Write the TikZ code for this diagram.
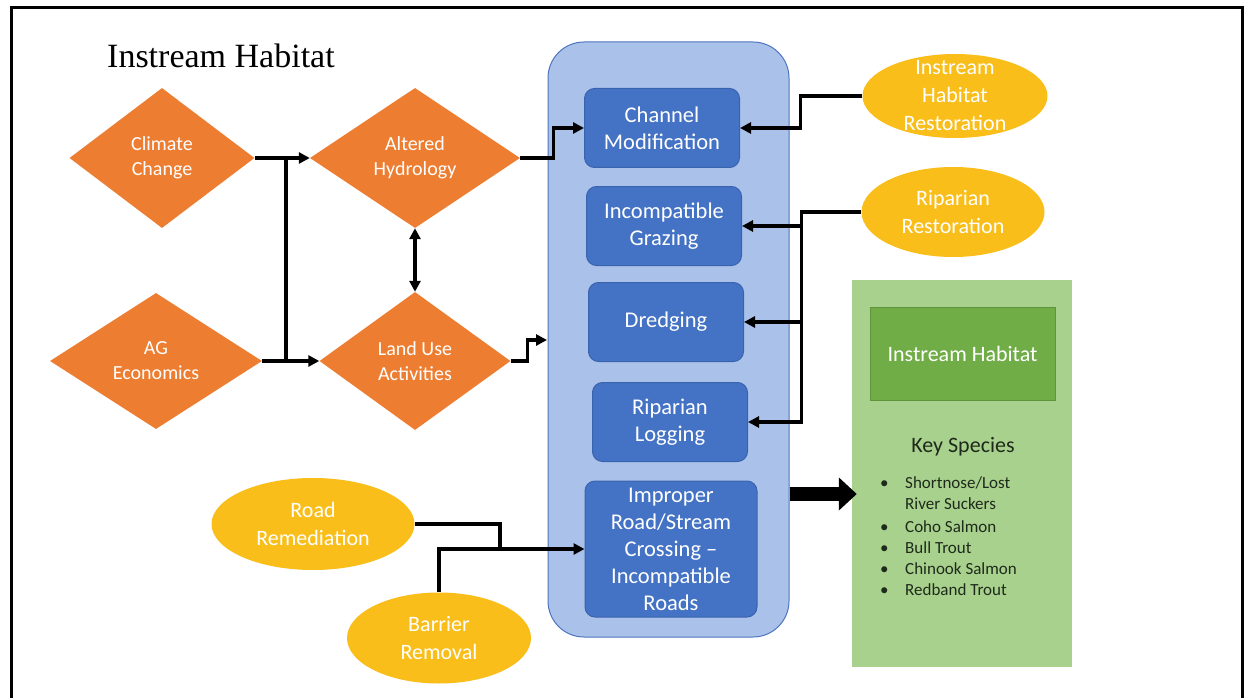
\documentclass[tikz,border=0pt]{standalone}
\usepackage{fontspec}
\setmainfont{Carlito}
\newfontfamily\titlefont{Liberation Serif}
\usetikzlibrary{shapes.geometric,arrows.meta}
\definecolor{orng}{HTML}{ED7D31}
\definecolor{gold}{HTML}{F9BE1A}
\definecolor{boxblue}{HTML}{4472C4}
\definecolor{boxedge}{HTML}{3A63AE}
\definecolor{contfill}{HTML}{AAC2EA}
\definecolor{contedge}{HTML}{4F74C0}
\definecolor{lgreen}{HTML}{A9D18E}
\definecolor{dgreen}{HTML}{70AD47}
\definecolor{darktext}{HTML}{1E2A1A}
\begin{document}
\begin{tikzpicture}[x=1pt,y=-1pt,
  dia/.style={diamond, fill=orng, text=white, inner sep=0pt, align=center,
    font=\fontsize{20}{25}\selectfont},
  blk/.style={rectangle, rounded corners=10pt, fill=boxblue, draw=boxedge, line width=1pt,
    text=white, align=center, inner sep=0pt, minimum width=155pt, minimum height=79pt,
    font=\fontsize{22.5}{27}\selectfont},
  ell/.style={ellipse, fill=gold, inner sep=0pt},
  elltext/.style={text=white, align=center, inner sep=0pt, font=\fontsize{22}{28}\selectfont},
  ln/.style={line width=3.2pt},
  arr/.style={line width=3.2pt, -{Triangle[length=11pt,width=11pt]}},
  dbl/.style={line width=3.2pt, {Triangle[length=11pt,width=11pt]}-{Triangle[length=11pt,width=11pt]}},
  spec/.style={anchor=base west, inner sep=0pt, text=darktext, font=\fontsize{17}{21}\selectfont}
]
\useasboundingbox (0,0) rectangle (1248,698);
\fill[white] (0,0) rectangle (1248,698);
% frame
\draw[line width=3pt] (11,698) -- (11,8) -- (1242,8) -- (1242,698);

% title
\node[anchor=base west, inner sep=0pt, font=\titlefont\fontsize{34}{40}\selectfont] (title) at (107,68) {Instream Habitat};

% diamonds
\node[dia, minimum width=185pt, minimum height=140pt] (cc) at (162,158) {Climate\\Change};
\node[dia, minimum width=212pt, minimum height=136pt] (ag) at (156,361) {AG\\Economics};
\node[dia, minimum width=210pt, minimum height=140pt] (ah) at (415,158) {Altered\\Hydrology};
\node[dia, minimum width=191pt, minimum height=138pt] (lu) at (415,361) {Land Use\\Activities};

% container
\node[draw=contedge, fill=contfill, line width=1pt, rounded corners=36pt,
      minimum width=241pt, minimum height=595pt] (ct) at (668.5,339.5) {};

% inner boxes
\node[blk] (cm) at (662,128) {Channel\\Modification};
\node[blk] (ig) at (664,226) {Incompatible\\Grazing};
\node[blk] (dr) at (666,322) {Dredging};
\node[blk] (rl) at (670,422) {Riparian\\Logging};
\node[blk, minimum width=172pt, minimum height=136pt] (ir) at (671,549) {Improper\\Road/Stream\\Crossing –\\Incompatible\\Roads};

% ellipses
\node[ell, minimum width=185pt, minimum height=84pt] (ihr) at (955,96) {};
\node[elltext] (ihrt) at (ihr.center) {Instream\\Habitat\\Restoration};
\node[ell, minimum width=183pt, minimum height=90pt] (rr) at (953,212) {};
\node[elltext] (rrt) at (rr.center) {Riparian\\Restoration};
\node[ell, minimum width=203pt, minimum height=92pt] (road) at (313,524) {};
\node[elltext] (roadt) at (road.center) {Road\\Remediation};
\node[ell, minimum width=184pt, minimum height=91pt] (br) at (439,638) {};
\node[elltext] (brt) at (br.center) {Barrier\\Removal};

% green panel
\node[fill=lgreen, minimum width=220pt, minimum height=387pt, inner sep=0pt] (gb) at (962,473.5) {};
\node[fill=dgreen, draw=dgreen!85!black, line width=0.8pt, minimum width=185pt, minimum height=93pt,
      inner sep=0pt, text=white, font=\fontsize{22}{27}\selectfont] (gi) at (962.5,353.5) {Instream Habitat};
\node[inner sep=0pt, text=darktext, font=\fontsize{22}{27}\selectfont] (ks) at (963,447) {Key Species};
\node[spec] (b1) at (880,488) {•};
\node[spec] (s1) at (905,488) {Shortnose/Lost};
\node[spec] (s1b) at (905,509) {River Suckers};
\node[spec] (b2) at (880,532) {•};
\node[spec] (s2) at (905,532) {Coho Salmon};
\node[spec] (b3) at (880,553) {•};
\node[spec] (s3) at (905,553) {Bull Trout};
\node[spec] (b4) at (880,574) {•};
\node[spec] (s4) at (905,574) {Chinook Salmon};
\node[spec] (b5) at (880,595) {•};
\node[spec] (s5) at (905,595) {Redband Trout};

% connectors, left part
\coordinate (j1) at (286,158);
\coordinate (j2) at (286,361);
\draw[arr] (cc.east) -- (ah.west);
\draw[arr] (ag.east) -- (lu.west);
\draw[ln] (j1) -- (j2);
\draw[dbl] (ah.south) -- (lu.north);
\draw[arr] (ah.east) -- ++(33,0) |- (cm.west);
\coordinate (luin) at (547,340);
\draw[arr] (lu.east) -- ++(17,0) |- (luin);

% connectors, right part
\draw[arr] (ihr.west) -- ++(-62,0) |- (cm.east);
\draw[arr] (rr.west) -- ++(-60,0) coordinate (rrj) |- (rl.east);
\draw[arr] (rrj |- ig.east) -- (ig.east);
\draw[arr] (rrj |- dr.east) -- (dr.east);

% connectors, bottom
\coordinate (rjoin) at (500,549);
\draw[arr] (road.east) -| (rjoin) -- (ir.west);
\draw[ln] (br.north) |- (rjoin);

% thick arrow
\coordinate (tay) at (0,494);
\draw[line width=14pt, -{Triangle[length=18pt,width=32pt]}, shorten >=-5pt] (ct.east |- tay) -- (gb.west |- tay);
\end{tikzpicture}
\end{document}
